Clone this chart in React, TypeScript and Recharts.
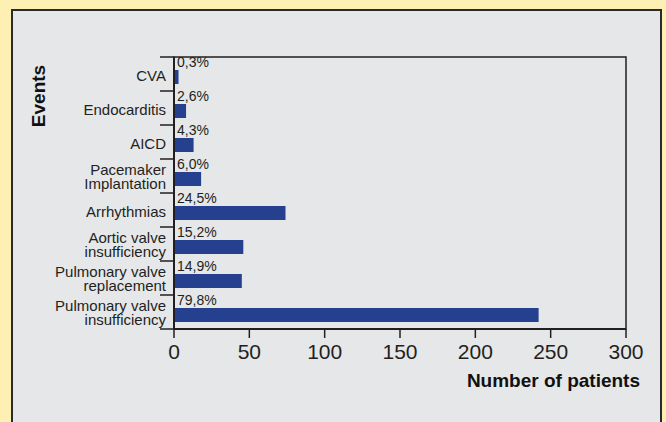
import React from 'react';
import { BarChart, Bar, XAxis, YAxis, LabelList, ReferenceArea } from 'recharts';

const events = [
  'CVA',
  'Endocarditis',
  'AICD',
  'Pacemaker\nImplantation',
  'Arrhythmias',
  'Aortic valve\ninsufficiency',
  'Pulmonary valve\nreplacement',
  'Pulmonary valve\ninsufficiency',
];
const patients = [3, 8, 13, 18, 74, 46, 45, 242];
const percents = ['0,3%', '2,6%', '4,3%', '6,0%', '24,5%', '15,2%', '14,9%', '79,8%'];
const xTicks = [0, 50, 100, 150, 200, 250, 300];

const chartData = events.map((name, i) => ({ name, value: patients[i], pct: percents[i] }));

const FONT = '"Liberation Sans", Arial, sans-serif';
const INK = '#231f20';
const BAR = '#25408e';
const TICK_MARGIN = 8;
const TICK_LEN = 14;

// category labels sit in the middle of each band, tick marks go on the band edges
const EventTick = (props: any) => {
  const { x, y, payload, index, visibleTicksCount } = props;
  const half = payload?.offset ?? 17;
  const axisX = x + TICK_MARGIN;
  const lines = String(payload.value).split('\n');
  const lh = 14;
  const start = lines.length > 1 ? -((lines.length - 1) * lh) / 2 + 5.5 : 6.5;
  const isLast = index === (visibleTicksCount ?? events.length) - 1;
  return (
    <g>
      <line x1={axisX - TICK_LEN} x2={axisX} y1={y - half} y2={y - half} stroke={INK} strokeWidth={1.5} />
      {isLast && (
        <line x1={axisX - TICK_LEN} x2={axisX} y1={y + half} y2={y + half} stroke={INK} strokeWidth={1.5} />
      )}
      <text x={x} y={y} textAnchor="end" fill={INK} fontSize={15} fontFamily={FONT}>
        {lines.map((l, i) => (
          <tspan key={i} x={x} dy={i === 0 ? start : lh}>
            {l}
          </tspan>
        ))}
      </text>
    </g>
  );
};

const ShiftedBar = (props: any) => {
  const { x, y, width, height, fill } = props;
  return <rect x={x} y={y + 3} width={width} height={height} fill={fill} />;
};

const PctLabel = (props: any) => {
  const { x, y, value } = props;
  return (
    <text x={x + 3} y={y} fill={INK} fontSize={14} fontFamily={FONT}>
      {value}
    </text>
  );
};

const EventsTitle = (props: any) => {
  const vb = props.viewBox || {};
  const cx = 38;
  const cy = (vb.y ?? 57) + 39;
  return (
    <text
      x={cx}
      y={cy}
      transform={`rotate(-90 ${cx} ${cy})`}
      textAnchor="middle"
      dominantBaseline="central"
      fill="#111"
      fontSize={19}
      fontWeight="bold"
      fontFamily={FONT}
    >
      Events
    </text>
  );
};

const PatientsTitle = (props: any) => {
  const vb = props.viewBox || {};
  return (
    <text
      x={(vb.x ?? 174) + (vb.width ?? 452) + 14}
      y={(vb.y ?? 329) + 58}
      textAnchor="end"
      fill="#111"
      fontSize={19}
      fontWeight="bold"
      fontFamily={FONT}
    >
      Number of patients
    </text>
  );
};

export default function App() {
  return (
    <div style={{ position: 'absolute', left: 0, top: 0, width: 666, height: 422, background: '#feefb3', overflow: 'hidden' }}>
      <div
        style={{
          position: 'absolute',
          left: 11,
          top: 9,
          width: 651,
          height: 430,
          background: '#e6e7e9',
          border: '2px solid #2a2a2a',
          boxSizing: 'border-box',
        }}
      />
      <div style={{ position: 'absolute', left: 0, top: 0 }}>
        <BarChart
          width={666}
          height={422}
          data={chartData}
          layout="vertical"
          margin={{ top: 57, right: 40, left: 0, bottom: 0 }}
          barCategoryGap={0}
        >
          <YAxis
            dataKey="name"
            type="category"
            width={174}
            axisLine={{ stroke: INK, strokeWidth: 2 }}
            tickLine={false}
            tickSize={0}
            tickMargin={TICK_MARGIN}
            tick={<EventTick />}
            interval={0}
            label={<EventsTitle />}
          />
          <XAxis
            type="number"
            domain={[0, 300]}
            ticks={xTicks}
            height={93}
            axisLine={{ stroke: INK, strokeWidth: 2 }}
            tickLine={{ stroke: INK, strokeWidth: 1.5 }}
            tickSize={9}
            tickMargin={6}
            tick={{ fill: INK, fontSize: 21, fontFamily: FONT, fontWeight: 300 }}
            label={<PatientsTitle />}
          />
          <ReferenceArea x1={0} x2={300} fill="none" stroke={INK} strokeWidth={1.5} />
          <Bar dataKey="value" fill={BAR} barSize={14} shape={<ShiftedBar />} isAnimationActive={false}>
            <LabelList dataKey="pct" content={<PctLabel />} />
          </Bar>
        </BarChart>
      </div>
    </div>
  );
}
